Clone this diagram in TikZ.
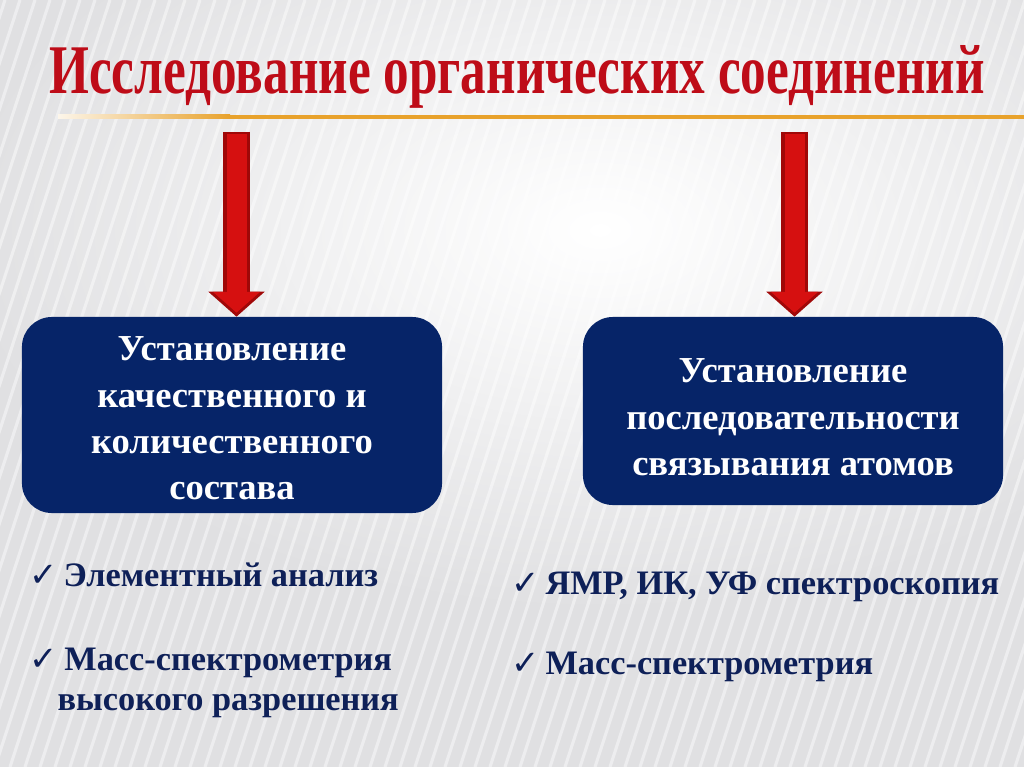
\documentclass[tikz,border=0pt]{standalone}
\usepackage{fontspec}
\setmainfont{Liberation Serif}
\newfontfamily\symfont{DejaVu Sans}
\usetikzlibrary{positioning, arrows.meta}

\definecolor{navy}{RGB}{6,36,104}
\definecolor{inktext}{RGB}{14,32,88}
\definecolor{titlered}{RGB}{190,12,24}
\definecolor{arrowred}{RGB}{214,16,16}
\definecolor{arrowdark}{RGB}{160,8,8}
\definecolor{linegold}{RGB}{232,162,44}
\definecolor{bggray}{RGB}{224,224,226}
\newcommand{\chk}{{\symfont\bfseries\fontsize{24pt}{24pt}\selectfont ✓}\hspace{0.15cm}}
\newcommand{\titletext}{\resizebox{23.375cm}{1.2cm}{\fontsize{50pt}{56pt}\selectfont\bfseries Исследование органических соединений}}

\begin{document}
\begin{tikzpicture}[x=0.025cm, y=-0.025cm,
    titletxt/.style={inner sep=0pt, anchor=base, text=titlered},
    infobox/.style={fill=navy, rounded corners=0.75cm, text=white, align=center, inner sep=0pt,
      font=\fontsize{26pt}{33pt}\selectfont\bfseries},
    item/.style={anchor=base west, text=inktext, inner sep=0pt, font=\fontsize{24.4pt}{29pt}\selectfont\bfseries},
    fatarrow/.style={-{Triangle[width=1.375cm, length=0.625cm]}, line width=0.675cm, draw=arrowdark},
    innerarrow/.style={-{Triangle[width=1.15cm, length=0.52cm]}, line width=0.5cm, draw=arrowred}
  ]
  \useasboundingbox (0,0) rectangle (1024,767);

  % background
  \fill[bggray] (0,0) rectangle (1024,767);
  \shade[inner color=white, outer color=bggray] (600,230) ellipse [x radius=640, y radius=380];
  \begin{scope}
    \clip (0,0) rectangle (1024,767);
    \foreach \s in {-320,-305,...,1040}
      \draw[white, line width=2.2pt, opacity=0.45] (\s,767) -- (\s+250,0);
  \end{scope}

  % title
  \node[titletxt] (title) at (517,94) {\titletext};

  % orange rule
  \shade[left color=linegold!10, right color=linegold] (58,115) rectangle (230,119);
  \fill[linegold] (230,115) rectangle (1024,119);

  % boxes
  \node[infobox, minimum width=10.5cm, minimum height=4.9cm] (boxL) at (232,415)
    {\rule{0pt}{22pt}Установление\\ качественного и\\ количественного\\ состава};
  \node[infobox, minimum width=10.5cm, minimum height=4.7cm] (boxR) at (793,411)
    {\rule{0pt}{26pt}Установление\\ последовательности\\ связывания атомов};

  % arrows
  \coordinate (topL) at (236.5,132);
  \coordinate (topR) at (794.5,132);
  \draw[fatarrow] (topL) -- (topL |- boxL.north);
  \draw[fatarrow] (topR) -- (topR |- boxR.north);
  \draw[innerarrow] ([yshift=-0.06cm]topL) -- ([yshift=0.1cm]topL |- boxL.north);
  \draw[innerarrow] ([yshift=-0.06cm]topR) -- ([yshift=0.1cm]topR |- boxR.north);

  % lists
  \node[item] (elem) at (29,586) {\chk Элементный анализ};
  \node[item] (massL) at (29,670) {\chk\hspace{-0.15cm}\begin{tabular}[t]{@{}c@{}}Масс-спектрометрия\\ высокого разрешения\end{tabular}};
  \node[item] (nmr) at (511,594) {\chk ЯМР, ИК, УФ спектроскопия};
  \node[item] (massR) at (511,674) {\chk Масс-спектрометрия};
\end{tikzpicture}
\end{document}
